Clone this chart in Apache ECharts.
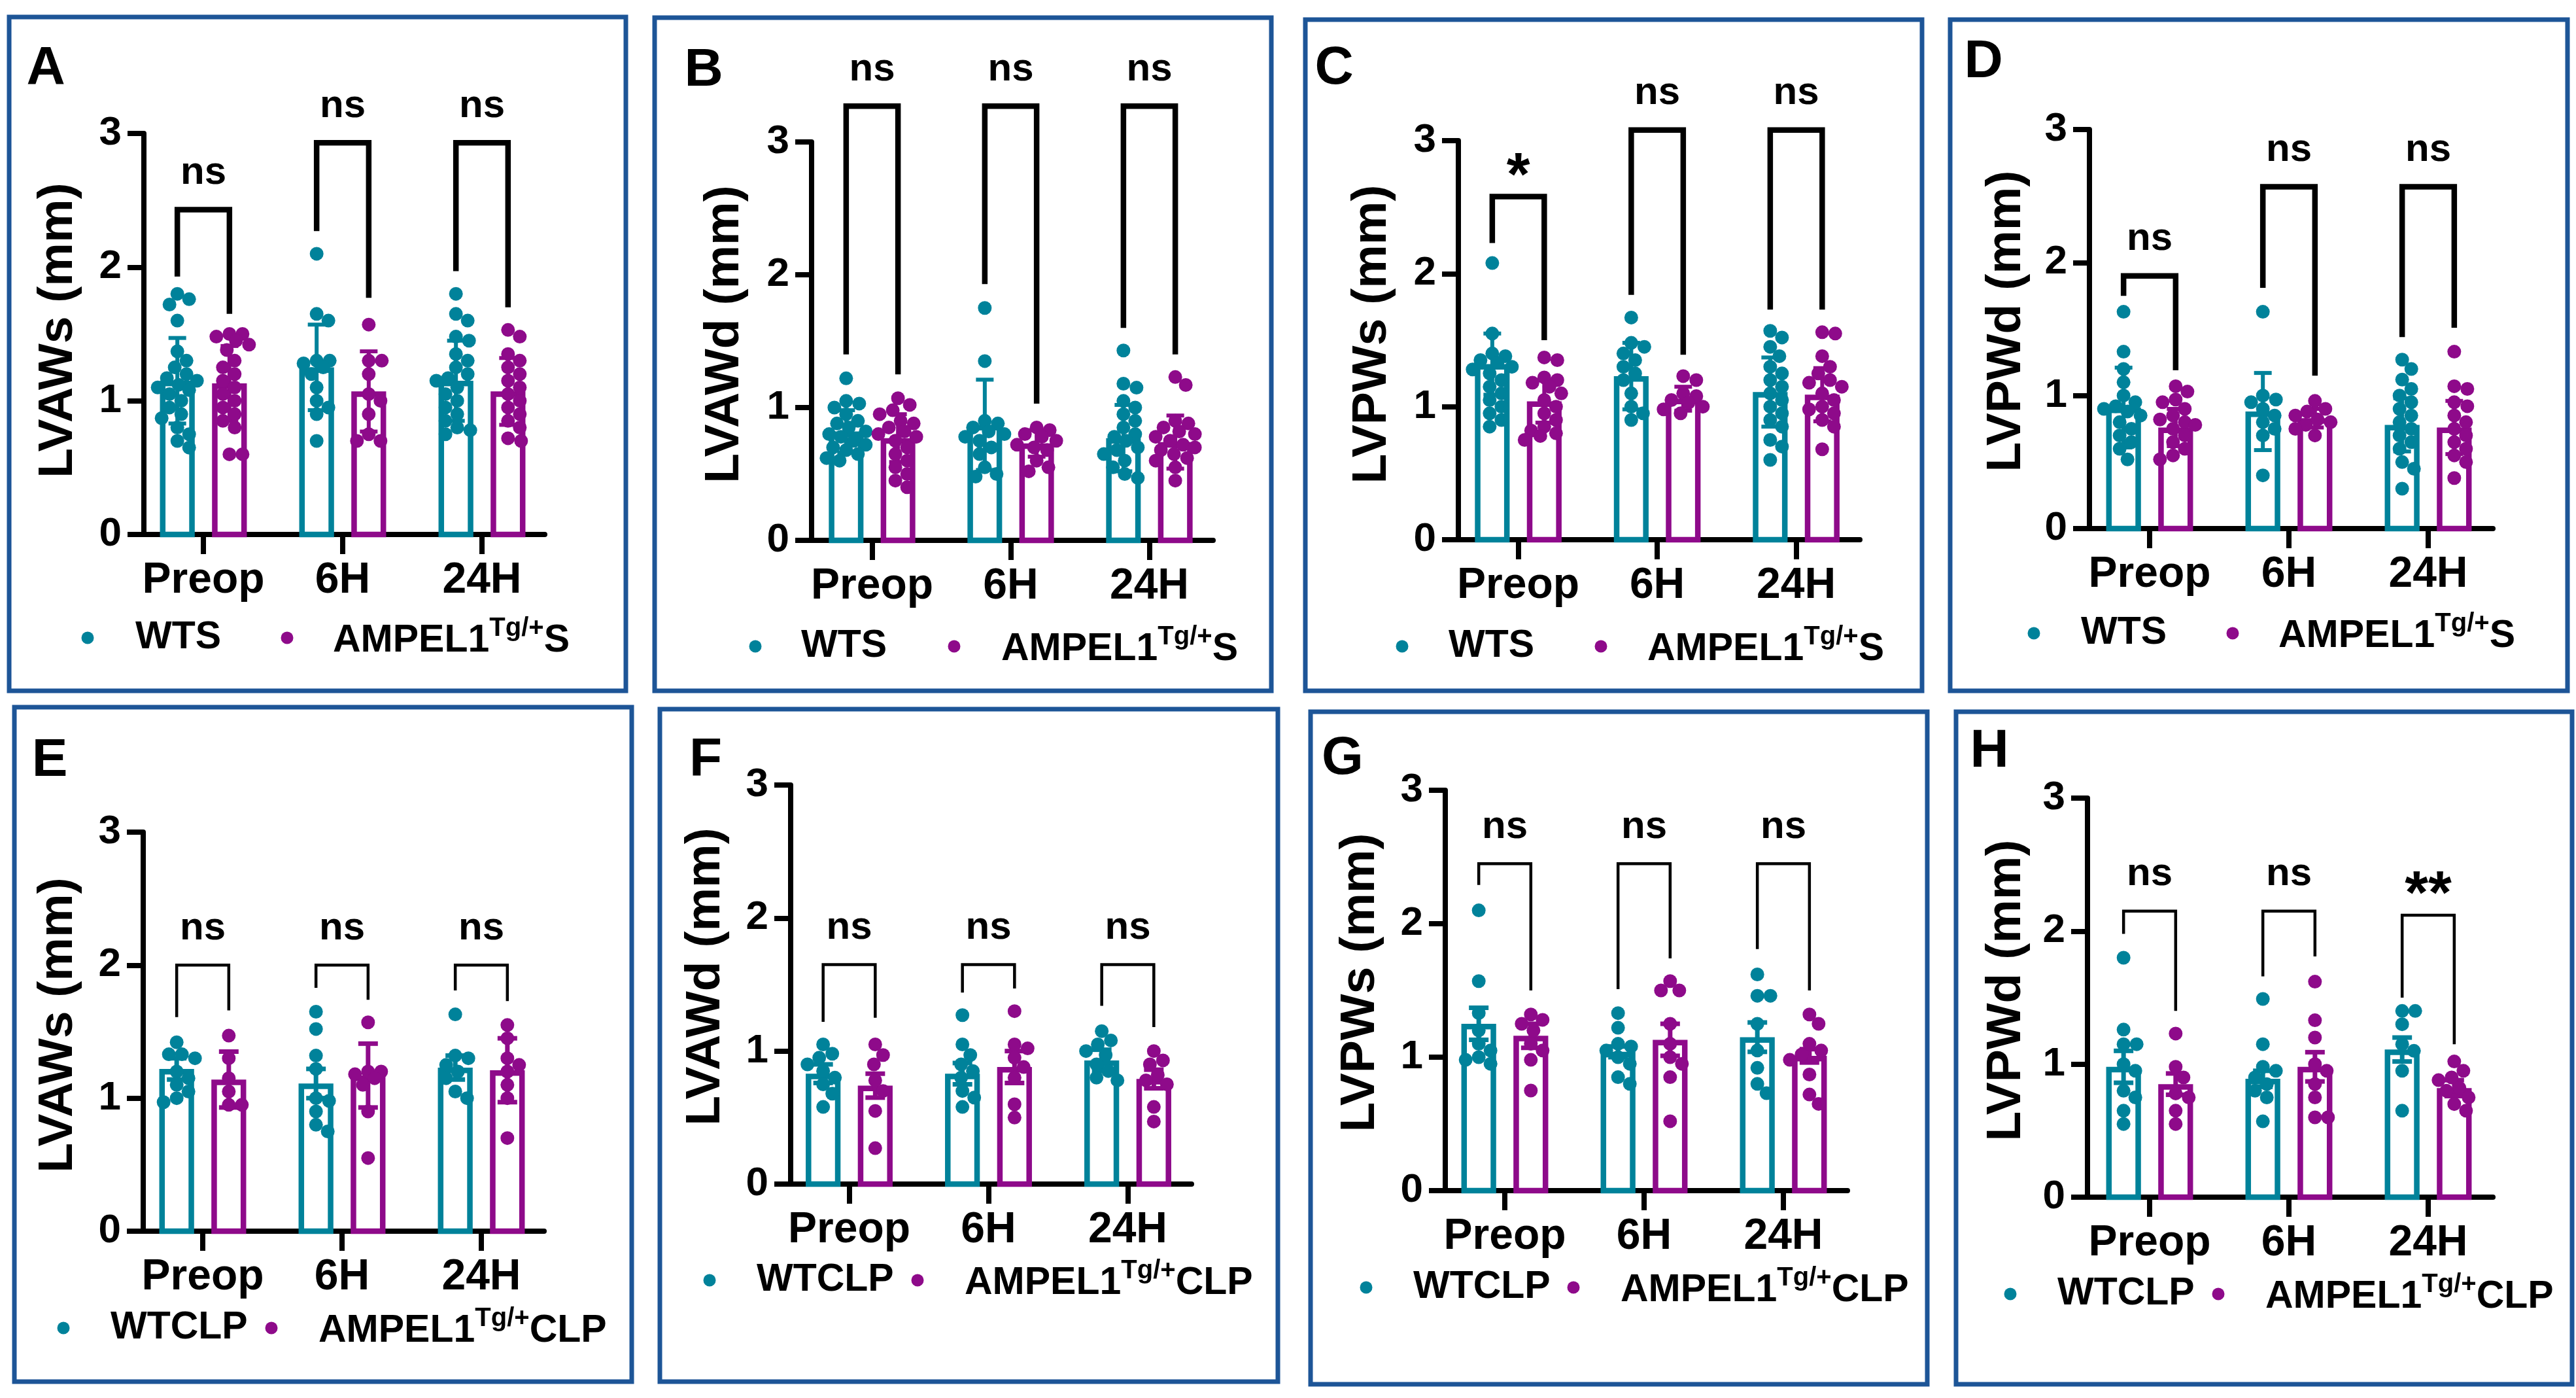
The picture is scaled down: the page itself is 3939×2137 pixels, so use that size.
<!DOCTYPE html>
<html><head><meta charset="utf-8">
<script src="https://cdn.jsdelivr.net/npm/echarts@6/dist/echarts.min.js"></script>
<style>html,body{margin:0;padding:0;background:#fff}#c{width:3939px;height:2137px}</style>
</head><body><div id="c"></div>
<script>
// ---------------- DATA ----------------
const categories = ['Preop', '6H', '24H'];
const panelLetters = ['A', 'B', 'C', 'D', 'E', 'F', 'G', 'H'];
const yTitles = ['LVAWs (mm)', 'LVAWd (mm)', 'LVPWs (mm)', 'LVPWd (mm)', 'LVAWs (mm)', 'LVAWd (mm)', 'LVPWs (mm)', 'LVPWd (mm)'];
const yTickValues = [0, 1, 2, 3];
const legendWT = ['WTS', 'WTS', 'WTS', 'WTS', 'WTCLP', 'WTCLP', 'WTCLP', 'WTCLP'];
const legendTgBase = 'AMPEL1';
const legendTgSup = 'Tg/+';
const legendTgSuffix = ['S', 'S', 'S', 'S', 'CLP', 'CLP', 'CLP', 'CLP'];

// Panel A  LVAWs (sepsis)
const A_wtMean = [1.15, 1.25, 1.15];
const A_tgMean = [1.13, 1.07, 1.07];
const A_wtErr = [0.32, 0.32, 0.30];
const A_tgErr = [0.28, 0.30, 0.25];
const A_wtPts = [[1.80,1.76,1.72,1.60,1.37,1.30,1.25,1.20,1.17,1.15,1.12,1.10,1.08,1.05,1.00,0.95,0.90,0.87,0.80,0.75,0.70,0.65],
                 [2.10,1.65,1.60,1.30,1.30,1.28,1.25,1.20,1.10,1.00,0.95,0.90,0.70],
                 [1.80,1.65,1.60,1.48,1.45,1.35,1.30,1.25,1.20,1.17,1.15,1.10,1.05,1.00,0.95,0.90,0.85,0.80,0.78,0.75]];
const A_tgPts = [[1.50,1.50,1.48,1.45,1.42,1.38,1.30,1.25,1.20,1.15,1.10,1.05,1.00,0.95,0.90,0.85,0.80,0.60,0.60],
                 [1.57,1.30,1.30,1.20,1.05,1.00,0.90,0.75,0.70,0.70],
                 [1.53,1.48,1.35,1.30,1.25,1.20,1.15,1.10,1.05,1.00,0.95,0.90,0.85,0.80,0.72,0.70]];
const A_bracket = [[1.93,2.43,1.65],[2.27,2.93,1.77],[1.97,2.93,1.70]];
const A_sig = ['ns', 'ns', 'ns'];

// Panel B  LVAWd (sepsis)
const B_wtMean = [0.82, 0.87, 0.77];
const B_tgMean = [0.77, 0.73, 0.74];
const B_wtErr = [0.16, 0.34, 0.25];
const B_tgErr = [0.18, 0.10, 0.20];
const B_wtPts = [[1.22,1.05,1.03,1.00,0.95,0.90,0.88,0.85,0.82,0.80,0.78,0.75,0.72,0.70,0.68,0.65,0.62,0.60],
                 [1.75,1.35,0.90,0.88,0.85,0.82,0.80,0.78,0.75,0.70,0.65,0.55,0.50,0.48],
                 [1.43,1.18,1.15,1.05,1.00,0.95,0.90,0.85,0.80,0.78,0.75,0.70,0.68,0.65,0.60,0.55,0.50,0.47]];
const B_tgPts = [[1.07,1.02,0.98,0.95,0.90,0.88,0.85,0.82,0.80,0.78,0.75,0.70,0.65,0.60,0.55,0.50,0.45,0.40],
                 [0.85,0.83,0.80,0.78,0.75,0.72,0.70,0.68,0.60,0.55,0.52],
                 [1.23,1.17,0.90,0.88,0.85,0.82,0.80,0.78,0.75,0.72,0.70,0.68,0.65,0.62,0.60,0.55,0.45]];
const B_bracket = [[1.40,3.27,1.25],[1.93,3.27,1.03],[1.60,3.27,1.40]];
const B_sig = ['ns', 'ns', 'ns'];

// Panel C  LVPWs (sepsis)
const C_wtMean = [1.32, 1.23, 1.11];
const C_tgMean = [1.04, 1.06, 1.09];
const C_wtErr = [0.23, 0.25, 0.26];
const C_tgErr = [0.16, 0.09, 0.20];
const C_wtPts = [[2.08,1.55,1.40,1.38,1.35,1.33,1.30,1.28,1.25,1.20,1.15,1.10,1.05,1.00,0.95,0.90,0.85],
                 [1.67,1.48,1.45,1.40,1.35,1.30,1.25,1.20,1.10,1.00,0.95,0.90],
                 [1.57,1.52,1.45,1.38,1.30,1.25,1.20,1.15,1.10,1.05,1.00,0.95,0.90,0.85,0.75,0.70,0.60]];
const C_tgPts = [[1.37,1.35,1.22,1.20,1.18,1.15,1.10,1.05,1.00,0.95,0.90,0.85,0.82,0.80,0.78,0.75],
                 [1.23,1.20,1.10,1.08,1.05,1.03,1.00,0.98,0.95],
                 [1.56,1.55,1.38,1.30,1.25,1.20,1.18,1.15,1.10,1.05,1.00,0.98,0.95,0.90,0.85,0.68]];
const C_bracket = [[2.23,2.58,1.50],[1.84,3.08,1.39],[1.73,3.08,1.73]];
const C_sig = ['*', 'ns', 'ns'];

// Panel D  LVPWd (sepsis)
const D_wtMean = [0.91, 0.88, 0.78];
const D_tgMean = [0.76, 0.83, 0.76];
const D_wtErr = [0.30, 0.29, 0.20];
const D_tgErr = [0.14, 0.07, 0.20];
const D_wtPts = [[1.63,1.33,1.20,1.10,1.00,0.95,0.92,0.90,0.88,0.85,0.80,0.75,0.70,0.65,0.60,0.52],
                 [1.63,1.00,0.97,0.95,0.90,0.85,0.80,0.75,0.70,0.40],
                 [1.27,1.20,1.12,1.05,1.00,0.95,0.90,0.85,0.80,0.75,0.70,0.65,0.60,0.50,0.45,0.30]];
const D_tgPts = [[1.07,1.03,0.97,0.95,0.90,0.85,0.82,0.80,0.78,0.75,0.70,0.65,0.60,0.55,0.52],
                 [0.96,0.90,0.88,0.85,0.82,0.80,0.78,0.75,0.70],
                 [1.33,1.07,1.05,0.95,0.92,0.85,0.80,0.75,0.70,0.65,0.60,0.55,0.50,0.38]];
const D_bracket = [[1.75,1.90,1.19],[1.81,2.57,1.15],[1.44,2.57,1.51]];
const D_sig = ['ns', 'ns', 'ns'];

// Panel E  LVAWs (CLP)
const E_wtMean = [1.22, 1.11, 1.23];
const E_tgMean = [1.14, 1.17, 1.21];
const E_wtErr = [0.08, 0.11, 0.09];
const E_tgErr = [0.21, 0.24, 0.24];
const E_wtPts = [[1.42,1.33,1.33,1.30,1.20,1.15,1.10,1.05,1.00,0.97],
                 [1.65,1.52,1.32,1.22,1.00,0.98,0.90,0.80,0.75],
                 [1.63,1.32,1.30,1.25,1.20,1.15,1.05,1.00]];
const E_tgPts = [[1.47,1.30,1.15,1.05,0.95,0.95],
                 [1.57,1.20,1.20,1.18,1.15,1.10,0.90,0.55],
                 [1.55,1.45,1.30,1.25,1.20,1.10,1.00,0.70]];
const E_bracket = [[1.61,2.00,1.66],[1.83,2.00,1.74],[1.81,2.00,1.73]];
const E_sig = ['ns', 'ns', 'ns'];

// Panel F  LVAWd (CLP)
const F_wtMean = [0.83, 0.83, 0.93];
const F_tgMean = [0.74, 0.88, 0.79];
const F_wtErr = [0.07, 0.08, 0.08];
const F_tgErr = [0.09, 0.12, 0.07];
const F_wtPts = [[1.05,0.98,0.95,0.90,0.85,0.80,0.75,0.68,0.58],
                 [1.27,1.05,0.97,0.90,0.85,0.80,0.70,0.65,0.58],
                 [1.15,1.08,1.05,1.00,0.97,0.90,0.85,0.80,0.78]];
const F_tgPts = [[1.05,0.97,0.90,0.78,0.70,0.55,0.27],
                 [1.30,1.05,1.02,0.95,0.88,0.80,0.60,0.50],
                 [1.00,0.93,0.90,0.82,0.78,0.75,0.58,0.47]];
const F_bracket = [[1.22,1.65,1.25],[1.44,1.65,1.47],[1.34,1.65,1.18]];
const F_sig = ['ns', 'ns', 'ns'];

// Panel G  LVPWs (CLP)
const G_wtMean = [1.25, 1.04, 1.15];
const G_tgMean = [1.16, 1.13, 1.01];
const G_wtErr = [0.12, 0.04, 0.11];
const G_tgErr = [0.09, 0.12, 0.05];
const G_wtPts = [[2.10,1.57,1.33,1.20,1.10,1.05,1.00,0.98,0.95],
                 [1.33,1.22,1.10,1.08,1.05,1.00,0.95,0.85,0.80],
                 [1.62,1.46,1.46,1.25,1.05,0.92,0.80,0.73]];
const G_tgPts = [[1.32,1.28,1.25,1.20,1.10,1.05,0.98,0.75],
                 [1.57,1.50,1.50,1.25,1.10,1.00,0.95,0.85,0.52],
                 [1.32,1.25,1.10,1.05,1.02,0.98,0.87,0.72,0.65]];
const G_bracket = [[2.29,2.45,1.50],[1.51,2.45,1.74],[1.81,2.45,1.50]];
const G_sig = ['ns', 'ns', 'ns'];

// Panel H  LVPWd (CLP)
const H_wtMean = [0.98, 0.89, 1.11];
const H_tgMean = [0.85, 0.98, 0.82];
const H_wtErr = [0.12, 0.06, 0.09];
const H_tgErr = [0.08, 0.11, 0.06];
const H_wtPts = [[1.80,1.26,1.15,1.15,1.00,0.95,0.80,0.75,0.65,0.55],
                 [1.49,1.15,0.98,0.95,0.90,0.85,0.80,0.75,0.57],
                 [1.40,1.40,1.30,1.15,1.10,0.95,0.65]];
const H_tgPts = [[1.23,0.98,0.90,0.78,0.75,0.65,0.55],
                 [1.62,1.33,1.20,1.00,0.95,0.85,0.75,0.60,0.60],
                 [1.02,0.95,0.90,0.88,0.82,0.80,0.75,0.70,0.65]];
const H_bracket = [[1.98,2.15,1.40],[1.66,2.15,1.81],[1.50,2.12,1.15]];
const H_sig = ['ns', 'ns', '**'];

// ---------------- STYLE / LAYOUT ----------------
const WT_COLOR = '#00829A';
const TG_COLOR = '#8E0A8A';
const FRAME_COLOR = '#1D5597';
const FONT = '"Liberation Sans", Arial, Helvetica, sans-serif';
const BAR_OFF = 0.187;   // half distance between grouped bars (category units)
const BAR_W = 0.25;      // bar width (category units)

const layout = [
  {frame:[14,26,957,1056],   ax:220,  y3:204,  y0:817,  c0:311,    unit:213,   right:833,  letter:[70,105],    title:[89,505],    legY:975,  leg:[134,207,439,509],   row:0},
  {frame:[1001,27,1944,1056],ax:1241, y3:217,  y0:826,  c0:1333.5, unit:212,   right:1855, letter:[1076,108],  title:[1108,511],  legY:988,  leg:[1155,1225,1459,1531],row:0},
  {frame:[1996,30,2939,1056],ax:2230, y3:215,  y0:825,  c0:2321.6, unit:212.5, right:2844, letter:[2040,105],  title:[2098,511],  legY:988,  leg:[2144,2215,2448,2519],row:0},
  {frame:[2982,30,3926,1056],ax:3195, y3:198,  y0:808,  c0:3287,   unit:213,   right:3812, letter:[3033,95],   title:[3068,491],  legY:968,  leg:[3110,3182,3414,3484],row:0},
  {frame:[22,1081,966,2112], ax:219,  y3:1272, y0:1882, c0:310,    unit:213,   right:832,  letter:[76,1163],   title:[89,1567],   legY:2030, leg:[97,169,415,487],     row:1},
  {frame:[1009,1084,1954,2112],ax:1209,y3:1200,y0:1810, c0:1298.5, unit:213,   right:1822, letter:[1079,1163], title:[1079,1493], legY:1957, leg:[1085,1157,1403,1475], row:1},
  {frame:[2004,1088,2947,2116],ax:2210,y3:1208,y0:1820, c0:2301,   unit:213,   right:2825, letter:[2053,1160], title:[2080,1502], legY:1968, leg:[2089,2161,2406,2478], row:1},
  {frame:[2991,1088,3933,2116],ax:3192,y3:1220,y0:1830, c0:3287,   unit:213,   right:3812, letter:[3042,1149], title:[3068,1514], legY:1978, leg:[3074,3146,3392,3464], row:1}
];

const panelData = [
  {wtMean:A_wtMean, tgMean:A_tgMean, wtErr:A_wtErr, tgErr:A_tgErr, wtPts:A_wtPts, tgPts:A_tgPts, bracket:A_bracket, sig:A_sig},
  {wtMean:B_wtMean, tgMean:B_tgMean, wtErr:B_wtErr, tgErr:B_tgErr, wtPts:B_wtPts, tgPts:B_tgPts, bracket:B_bracket, sig:B_sig},
  {wtMean:C_wtMean, tgMean:C_tgMean, wtErr:C_wtErr, tgErr:C_tgErr, wtPts:C_wtPts, tgPts:C_tgPts, bracket:C_bracket, sig:C_sig},
  {wtMean:D_wtMean, tgMean:D_tgMean, wtErr:D_wtErr, tgErr:D_tgErr, wtPts:D_wtPts, tgPts:D_tgPts, bracket:D_bracket, sig:D_sig},
  {wtMean:E_wtMean, tgMean:E_tgMean, wtErr:E_wtErr, tgErr:E_tgErr, wtPts:E_wtPts, tgPts:E_tgPts, bracket:E_bracket, sig:E_sig},
  {wtMean:F_wtMean, tgMean:F_tgMean, wtErr:F_wtErr, tgErr:F_tgErr, wtPts:F_wtPts, tgPts:F_tgPts, bracket:F_bracket, sig:F_sig},
  {wtMean:G_wtMean, tgMean:G_tgMean, wtErr:G_wtErr, tgErr:G_tgErr, wtPts:G_wtPts, tgPts:G_tgPts, bracket:G_bracket, sig:G_sig},
  {wtMean:H_wtMean, tgMean:H_tgMean, wtErr:H_wtErr, tgErr:H_tgErr, wtPts:H_wtPts, tgPts:H_tgPts, bracket:H_bracket, sig:H_sig}
];

// beeswarm horizontal offsets (pixels) so dots don't overlap
function swarm(vals, pxPerUnit, d, maxOff) {
  const order = vals.map((v, i) => i).sort((a, b) => vals[b] - vals[a]);
  const placed = [];
  const off = new Array(vals.length).fill(0);
  const cands = [0];
  for (let s = 2; s <= maxOff; s += 2) { cands.push(s, -s); }
  order.forEach(i => {
    const y = vals[i] * pxPerUnit;
    let best = 0, bestScore = -1;
    for (const c of cands) {
      let minD = Infinity;
      for (const p of placed) {
        const dd = Math.hypot(c - p[0], y - p[1]);
        if (dd < minD) minD = dd;
      }
      if (minD >= d * 0.92) { best = c; bestScore = Infinity; break; }
      if (minD > bestScore) { bestScore = minD; best = c; }
    }
    off[i] = best;
    placed.push([best, y]);
  });
  return off;
}

function barRender(offset, color, errW, capW) {
  return function (params, api) {
    const k = api.value(0), m = api.value(1), e = api.value(2);
    const base = api.coord([k + offset, 0]);
    const top = api.coord([k + offset, m]);
    const hi = api.coord([k + offset, m + e]);
    const lo = api.coord([k + offset, m - e]);
    const w = api.size([BAR_W, 0])[0];
    const lw = 8.5;
    const cx = base[0];
    return {type: 'group', children: [
      {type: 'rect', shape: {x: cx - w / 2 + lw / 2, y: top[1] + lw / 2, width: w - lw, height: base[1] - top[1] - lw / 2},
       style: {fill: '#fff', stroke: color, lineWidth: lw}},
      {type: 'line', shape: {x1: cx, y1: lo[1], x2: cx, y2: hi[1]}, style: {stroke: color, lineWidth: errW}},
      {type: 'line', shape: {x1: cx - capW / 2, y1: hi[1], x2: cx + capW / 2, y2: hi[1]}, style: {stroke: color, lineWidth: errW}},
      {type: 'line', shape: {x1: cx - capW / 2, y1: lo[1], x2: cx + capW / 2, y2: lo[1]}, style: {stroke: color, lineWidth: errW}}
    ]};
  };
}

function pointRender(offset, color) {
  return function (params, api) {
    const p = api.coord([api.value(0) + offset, api.value(1)]);
    return {type: 'circle', shape: {cx: p[0] + api.value(2), cy: p[1], r: 10.5}, style: {fill: color}};
  };
}

function bracketRender(sig, lw) {
  return function (params, api) {
    const k = api.value(0);
    const pl = api.coord([k - BAR_OFF, api.value(1)]);
    const pt = api.coord([k - BAR_OFF, api.value(2)]);
    const pr = api.coord([k + BAR_OFF, api.value(3)]);
    const label = sig[params.dataIndex];
    const star = label.indexOf('*') >= 0;
    const cx = (pl[0] + pr[0]) / 2;
    return {type: 'group', children: [
      {type: 'polyline', shape: {points: [[pl[0], pl[1]], [pl[0], pt[1]], [pr[0], pt[1]], [pr[0], pr[1]]]},
       style: {stroke: '#000', lineWidth: lw, fill: null, lineJoin: 'miter'}},
      {type: 'text', x: cx, y: pt[1] - (star ? 28 : 56),
       style: {text: label, fill: '#000', font: 'bold ' + (star ? 92 : 60) + 'px ' + FONT, align: 'center', verticalAlign: 'middle'}}
    ]};
  };
}

const grids = [], xAxes = [], yAxes = [], series = [], graphics = [];

layout.forEach((L, i) => {
  const D = panelData[i];
  const row = L.row;
  grids.push({left: L.ax, top: L.y3, width: L.right - L.ax, height: L.y0 - L.y3, containLabel: false, outerBoundsMode: 'none'});
  xAxes.push({
    gridIndex: i, type: 'value',
    min: (L.ax - L.c0) / L.unit, max: (L.right - L.c0) / L.unit,
    axisLine: {show: true, onZero: false, lineStyle: {color: '#000', width: 8}},
    axisTick: {show: true, customValues: [0, 1, 2], length: 30, lineStyle: {color: '#000', width: 8}},
    axisLabel: {show: true, customValues: [0, 1, 2], formatter: v => categories[Math.round(v)],
      margin: 38, color: '#000', fontSize: 66, fontWeight: 'bold', fontFamily: FONT},
    splitLine: {show: false}
  });
  yAxes.push({
    gridIndex: i, type: 'value', min: 0, max: 3, interval: 1,
    axisLine: {show: true, onZero: false, lineStyle: {color: '#000', width: 8}},
    axisTick: {show: true, length: 25, lineStyle: {color: '#000', width: 8}},
    axisLabel: {margin: 34, color: '#000', fontSize: 62, fontWeight: 'bold', fontFamily: FONT,
      formatter: v => (yTickValues.indexOf(v) >= 0 ? String(v) : '')},
    splitLine: {show: false}
  });
  const pxPerUnit = (L.y0 - L.y3) / 3;
  const errW = row === 0 ? 6 : 7;
  const capW = row === 0 ? 27 : 30;
  [['wt', -BAR_OFF, WT_COLOR], ['tg', BAR_OFF, TG_COLOR]].forEach(([g, off, col]) => {
    const means = D[g + 'Mean'], errs = D[g + 'Err'], pts = D[g + 'Pts'];
    series.push({
      type: 'custom', xAxisIndex: i, yAxisIndex: i, z: 2, silent: true,
      renderItem: barRender(off, col, errW, capW),
      data: categories.map((c, k) => [k, means[k], errs[k]])
    });
    const pdata = [];
    pts.forEach((arr, k) => {
      const jit = swarm(arr, pxPerUnit, 21, 30);
      arr.forEach((v, j) => pdata.push([k, v, jit[j]]));
    });
    series.push({
      type: 'custom', xAxisIndex: i, yAxisIndex: i, z: 3, silent: true,
      renderItem: pointRender(off, col), data: pdata
    });
  });
  series.push({
    type: 'custom', xAxisIndex: i, yAxisIndex: i, z: 4, silent: true,
    renderItem: bracketRender(D.sig, row === 0 ? 8.5 : 4.5),
    data: D.bracket.map((b, k) => [k, b[0], b[1], b[2]])
  });

  // frame
  const f = L.frame;
  graphics.push({type: 'rect', shape: {x: f[0], y: f[1], width: f[2] - f[0], height: f[3] - f[1]},
    style: {fill: 'none', stroke: FRAME_COLOR, lineWidth: 7}, z: 10, silent: true});
  // panel letter
  graphics.push({type: 'text', x: L.letter[0], y: L.letter[1],
    style: {text: panelLetters[i], fill: '#000', font: 'bold 82px ' + FONT, align: 'center', verticalAlign: 'middle'}, z: 10});
  // y title
  graphics.push({type: 'text', x: L.title[0], y: L.title[1], rotation: Math.PI / 2,
    style: {text: yTitles[i], fill: '#000', font: 'bold 75px ' + FONT, align: 'center', verticalAlign: 'middle'}, z: 10});
  // legend
  graphics.push({type: 'circle', shape: {cx: L.leg[0], cy: L.legY, r: 9.5}, style: {fill: WT_COLOR}, z: 10});
  graphics.push({type: 'text', x: L.leg[1], y: L.legY,
    style: {text: legendWT[i], fill: '#000', font: 'bold 59px ' + FONT, align: 'left', verticalAlign: 'middle'}, z: 10});
  graphics.push({type: 'circle', shape: {cx: L.leg[2], cy: L.legY, r: 9.5}, style: {fill: TG_COLOR}, z: 10});
  graphics.push({type: 'text', x: L.leg[3], y: L.legY,
    style: {text: '{t|' + legendTgBase + '}{s|' + legendTgSup + '}{t|' + legendTgSuffix[i] + '}',
      align: 'left', verticalAlign: 'middle',
      rich: {
        t: {fontSize: 59, fontWeight: 'bold', fontFamily: FONT, fill: '#000', color: '#000', verticalAlign: 'bottom', lineHeight: 68},
        s: {fontSize: 40, fontWeight: 'bold', fontFamily: FONT, fill: '#000', color: '#000', verticalAlign: 'top', lineHeight: 42}
      }}, z: 10});
});

const chart = echarts.init(document.getElementById('c'), null, {renderer: 'canvas'});
chart.setOption({
  backgroundColor: '#fff',
  animation: false,
  grid: grids, xAxis: xAxes, yAxis: yAxes, series: series,
  graphic: {elements: graphics}
});
</script>
</body></html>
